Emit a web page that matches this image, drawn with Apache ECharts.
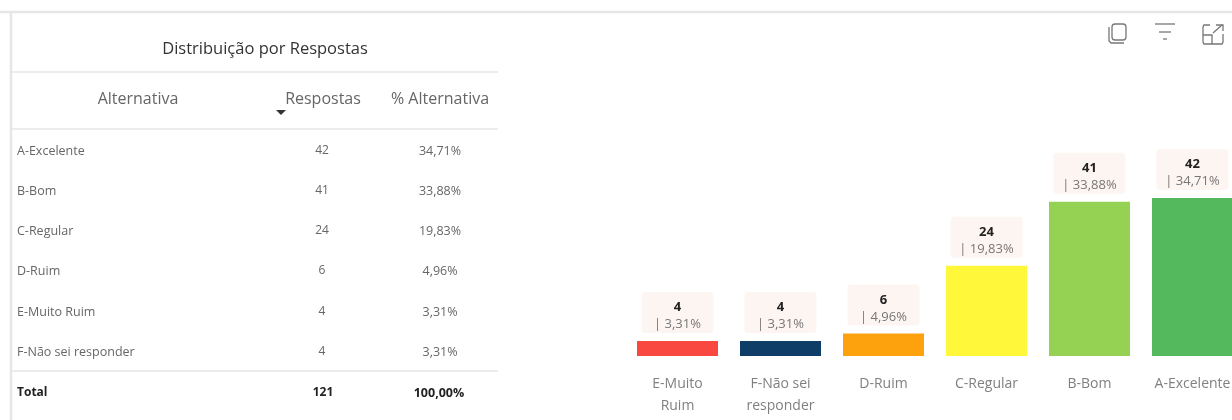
<!DOCTYPE html>
<html><head><meta charset="utf-8">
<style>html,body{margin:0;padding:0;background:#fff}#c{width:1232px;height:420px}</style>
<script src="https://cdn.jsdelivr.net/npm/echarts@6/dist/echarts.min.js"></script>
</head><body><div id="c"></div>
<script>
const chartCategories = ['E-Muito\nRuim','F-Não sei\nresponder','D-Ruim','C-Regular','B-Bom','A-Excelente'];
const chartValues = [4,4,6,24,41,42];
const chartPercents = ['3,31%','3,31%','4,96%','19,83%','33,88%','34,71%'];
const chartColors = ['#f9483f','#0e3d68','#fda20c','#fff83a','#95d153','#53b95c'];
const tableTitle = 'Distribuição por Respostas';
const tableHeaders = ['Alternativa','Respostas','% Alternativa'];
const tableNames = ['A-Excelente','B-Bom','C-Regular','D-Ruim','E-Muito Ruim','F-Não sei responder'];
const tableCounts = ['42','41','24','6','4','4'];
const tablePercents = ['34,71%','33,88%','19,83%','4,96%','3,31%','3,31%'];
const tableTotal = ['Total','121','100,00%'];

const FONT = '"Open Sans", sans-serif';
const LINE = '#e6e6e6';
const g = [];
function hline(x1,x2,y,w){g.push({type:'line',silent:true,shape:{x1,y1:y,x2,y2:y},style:{stroke:LINE,lineWidth:w||1}});}
function vline(x,y1,y2,w){g.push({type:'line',silent:true,shape:{x1:x,y1,x2:x,y2},style:{stroke:LINE,lineWidth:w||1}});}
function txt(s,x,y,o){o=o||{};g.push({type:'text',silent:true,x,y,style:{text:s,fill:o.fill||'#666',font:(o.weight||'400')+' '+(o.size||12)+'px '+(o.family||FONT),textAlign:o.align||'center',textVerticalAlign:'middle'}});}

hline(0,1232,12,2.5); vline(11,12,420,2.5);
hline(12,498,72,1.5); hline(12,498,129,1.5); hline(12,498,371,1.5);
txt(tableTitle,265,49,{size:16.5,fill:'#333',weight:'500'});
txt(tableHeaders[0],138,99,{size:16,fill:'#666'});
txt(tableHeaders[1],323,99,{size:16,fill:'#666'});
txt(tableHeaders[2],440,99,{size:16,fill:'#666'});
g.push({type:'polygon',silent:true,shape:{points:[[276,110],[286,110],[281,115]]},style:{fill:'#333'}});
const rowY=[151,191,231,271,312,352];
tableNames.forEach((n,i)=>{
  txt(n,17,rowY[i],{align:'left',size:12.5});
  txt(tableCounts[i],322,rowY[i],{size:12});
  txt(tablePercents[i],440,rowY[i],{size:12.5});
});
txt(tableTotal[0],17,393,{align:'left',size:12,weight:'700',fill:'#222'});
txt(tableTotal[1],323,393,{size:12,weight:'700',fill:'#222'});
txt(tableTotal[2],439,393,{size:12.5,weight:'700',fill:'#222'});

// toolbar icons
const ic={stroke:'#777',lineWidth:1.3,fill:'none'};
g.push({type:'rect',silent:true,shape:{x:1112,y:24,width:14,height:16,r:3},style:ic});
g.push({type:'polyline',silent:true,shape:{points:[[1109,27],[1109,41],[1111,43],[1124,43]]},style:ic});
[[1155,1175,24],[1159,1171,32],[1163,1167,39]].forEach(a=>g.push({type:'line',silent:true,shape:{x1:a[0],y1:a[2],x2:a[1],y2:a[2]},style:{stroke:'#777',lineWidth:1.3}}));
g.push({type:'polyline',silent:true,shape:{points:[[1210,25],[1204,25],[1203,27],[1203,42],[1204,44],[1222,44],[1223,42],[1223,34]]},style:ic});
g.push({type:'polyline',silent:true,shape:{points:[[1203,35],[1212,35],[1212,44]]},style:ic});
g.push({type:'polyline',silent:true,shape:{points:[[1213,33],[1222,25]]},style:ic});
g.push({type:'polyline',silent:true,shape:{points:[[1216,25],[1223,25],[1223,31]]},style:ic});

const chart = echarts.init(document.getElementById('c'),null,{renderer:'canvas'});
chart.setOption({
  animation:false,
  backgroundColor:'#fff',
  grid:{left:626,top:168,width:618,height:188,containLabel:false,outerBoundsMode:'none'},
  xAxis:{type:'category',data:chartCategories,
    axisLine:{show:false},axisTick:{show:false},
    axisLabel:{interval:0,color:'#808080',fontFamily:FONT,fontSize:14,lineHeight:22,margin:17,verticalAlign:'top'}},
  yAxis:{type:'value',min:0,max:50,show:false,splitLine:{show:false}},
  series:[{type:'bar',barWidth:81,
    data:chartValues.map((v,i)=>({value:v,itemStyle:{color:chartColors[i]}})),
    label:{show:true,position:'top',distance:8,
      backgroundColor:'#fdf5f2',borderRadius:4,width:72,align:'center',padding:[7,0,0,0],
      formatter:p=>'{a|'+p.value+'}\n{b|| '+chartPercents[p.dataIndex]+'}',
      rich:{a:{fontFamily:FONT,fontWeight:700,fontSize:13,color:'#222',lineHeight:17,align:'center',width:72},
            b:{fontFamily:FONT,fontSize:13,color:'#777',lineHeight:17,align:'center',width:72}}}
  }],
  graphic:g
});
</script></body></html>
